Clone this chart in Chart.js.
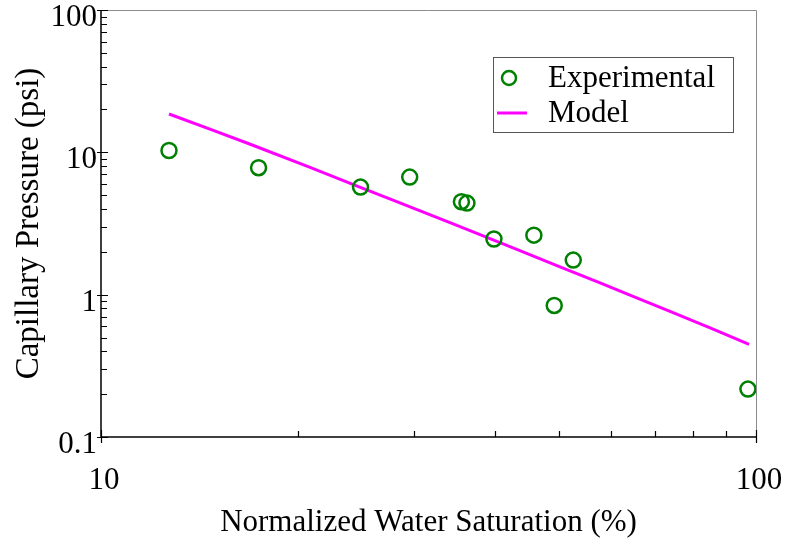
<!DOCTYPE html>
<html>
<head>
<meta charset="utf-8">
<title>Capillary Pressure vs Normalized Water Saturation</title>
<script src="https://cdn.jsdelivr.net/npm/chart.js@4.4.1/dist/chart.umd.min.js"></script>
<style>
  html, body { margin: 0; padding: 0; background: #fff; }
  #wrap { width: 789px; height: 544px; }
</style>
</head>
<body>
<div id="wrap"><canvas id="pcChart" width="789" height="544"></canvas></div>
<script>
// ---- data ----
const expSat = [12.7, 17.4, 24.9, 29.6, 35.5, 36.2, 39.8, 45.8, 49.2, 52.6, 97.2];
const expPc  = [10.3, 7.8, 5.7, 6.7, 4.5, 4.4, 2.46, 2.62, 0.84, 1.75, 0.217];

const modelSat = [12.7, 14.7, 16.9, 20.9, 24.5, 28.6, 34.1, 37.9, 43.6, 50.2, 57.8, 64.2, 73.9, 85.1, 97.6];
const modelPc  = [18.6, 14.5, 11.4, 7.80, 5.84, 4.41, 3.21, 2.64, 2.04, 1.57, 1.21, 0.994, 0.763, 0.585, 0.448];

const xMajor = [10, 100];
const xMinor = [20, 30, 40, 50, 60, 70, 80, 90];
const yMajor = [0.1, 1, 10, 100];
const yMinor = [0.2, 0.3, 0.4, 0.5, 0.6, 0.7, 0.8, 0.9, 2, 3, 4, 5, 6, 7, 8, 9, 20, 30, 40, 50, 60, 70, 80, 90];

const FONT = "'Liberation Serif', 'Times New Roman', serif";
const GREEN = '#008000';
const MAGENTA = '#ff00ff';

// axes frame, tick marks and the boxed legend
const framePlugin = {
  id: 'frame',
  afterDatasetsDraw(chart) {
    const {ctx, chartArea: a, scales: {x, y}} = chart;
    ctx.save();
    // top / right border in grey
    ctx.strokeStyle = '#8c8c8c';
    ctx.lineWidth = 1;
    ctx.beginPath();
    ctx.moveTo(a.left, a.top + 0.5);
    ctx.lineTo(a.right + 0.5, a.top + 0.5);
    ctx.lineTo(a.right + 0.5, a.bottom);
    ctx.stroke();

    // left / bottom axes in black
    ctx.strokeStyle = '#000';
    ctx.lineWidth = 1.5;
    ctx.beginPath();
    ctx.moveTo(a.left, a.top);
    ctx.lineTo(a.left, a.bottom);
    ctx.lineTo(a.right, a.bottom);
    ctx.stroke();

    ctx.lineWidth = 1.2;
    ctx.beginPath();
    yMajor.forEach(v => {
      const py = Math.round(y.getPixelForValue(v)) + 0.5;
      ctx.moveTo(a.left - 4, py); ctx.lineTo(a.left + 7, py);
    });
    yMinor.forEach(v => {
      const py = Math.round(y.getPixelForValue(v)) + 0.5;
      ctx.moveTo(a.left, py); ctx.lineTo(a.left + 6, py);
    });
    xMajor.forEach(v => {
      const px = Math.round(x.getPixelForValue(v)) + 0.5;
      ctx.moveTo(px, a.bottom + 6); ctx.lineTo(px, a.bottom - 7);
    });
    xMinor.forEach(v => {
      const px = Math.round(x.getPixelForValue(v)) + 0.5;
      ctx.moveTo(px, a.bottom); ctx.lineTo(px, a.bottom - 6);
    });
    ctx.stroke();

    // legend box
    const ds = chart.data.datasets;
    const bx = 493, by = 57, bw = 240, bh = 75;
    ctx.fillStyle = '#fff';
    ctx.fillRect(bx, by, bw, bh);
    ctx.strokeStyle = '#555';
    ctx.lineWidth = 1;
    ctx.strokeRect(bx + 0.5, by + 0.5, bw, bh);

    ctx.strokeStyle = ds[0].borderColor;
    ctx.lineWidth = ds[0].borderWidth;
    ctx.beginPath();
    ctx.arc(509, 78, 7, 0, Math.PI * 2);
    ctx.stroke();

    ctx.strokeStyle = ds[1].borderColor;
    ctx.lineWidth = ds[1].borderWidth;
    ctx.beginPath();
    ctx.moveTo(497, 113); ctx.lineTo(527, 113);
    ctx.stroke();

    ctx.fillStyle = '#000';
    ctx.font = '31px ' + FONT;
    ctx.textBaseline = 'middle';
    ctx.textAlign = 'left';
    ctx.fillText(ds[0].label, 548, 79);
    ctx.fillText(ds[1].label, 548, 114);
    ctx.restore();
  }
};

new Chart(document.getElementById('pcChart'), {
  type: 'scatter',
  data: {
    datasets: [
      {
        label: 'Experimental',
        data: expSat.map((s, i) => ({x: s, y: expPc[i]})),
        pointStyle: 'circle',
        pointRadius: 7.5,
        borderColor: GREEN,
        backgroundColor: 'rgba(0,0,0,0)',
        borderWidth: 2.5,
        order: 0
      },
      {
        label: 'Model',
        data: modelSat.map((s, i) => ({x: s, y: modelPc[i]})),
        showLine: true,
        pointRadius: 0,
        borderColor: MAGENTA,
        borderWidth: 3,
        tension: 0,
        order: 1
      }
    ]
  },
  options: {
    responsive: false,
    animation: false,
    devicePixelRatio: 1,
    layout: { padding: { top: 7, right: 33, left: 0, bottom: 0 } },
    plugins: {
      legend: { display: false },
      tooltip: { enabled: false }
    },
    scales: {
      x: {
        type: 'logarithmic',
        min: 10,
        max: 100,
        border: { display: false },
        grid: { display: false, drawTicks: false },
        afterBuildTicks: s => { s.ticks = xMajor.map(v => ({value: v})); },
        afterFit: s => { s.height = 107; s.paddingLeft = 0; s.paddingRight = 0; },
        ticks: {
          color: '#000',
          font: { family: FONT, size: 31 },
          padding: 25,
          labelOffset: 3,
          maxRotation: 0,
          autoSkip: false,
          callback: v => String(v)
        },
        title: {
          display: true,
          text: 'Normalized Water Saturation (%)',
          color: '#000',
          font: { family: FONT, size: 31 },
          padding: { top: 0, bottom: 3 }
        }
      },
      y: {
        type: 'logarithmic',
        min: 0.1,
        max: 100,
        border: { display: false },
        grid: { display: false, drawTicks: false },
        afterBuildTicks: s => { s.ticks = yMajor.map(v => ({value: v})); },
        afterFit: s => { s.width = 101; s.paddingTop = 0; s.paddingBottom = 0; },
        ticks: {
          color: '#000',
          font: { family: FONT, size: 31 },
          padding: 4,
          labelOffset: 8,
          autoSkip: false,
          callback: v => String(v)
        },
        title: {
          display: true,
          text: 'Capillary Pressure (psi)',
          color: '#000',
          font: { family: FONT, size: 33 },
          padding: { top: 10, bottom: 0 }
        }
      }
    }
  },
  plugins: [framePlugin]
});
</script>
</body>
</html>
